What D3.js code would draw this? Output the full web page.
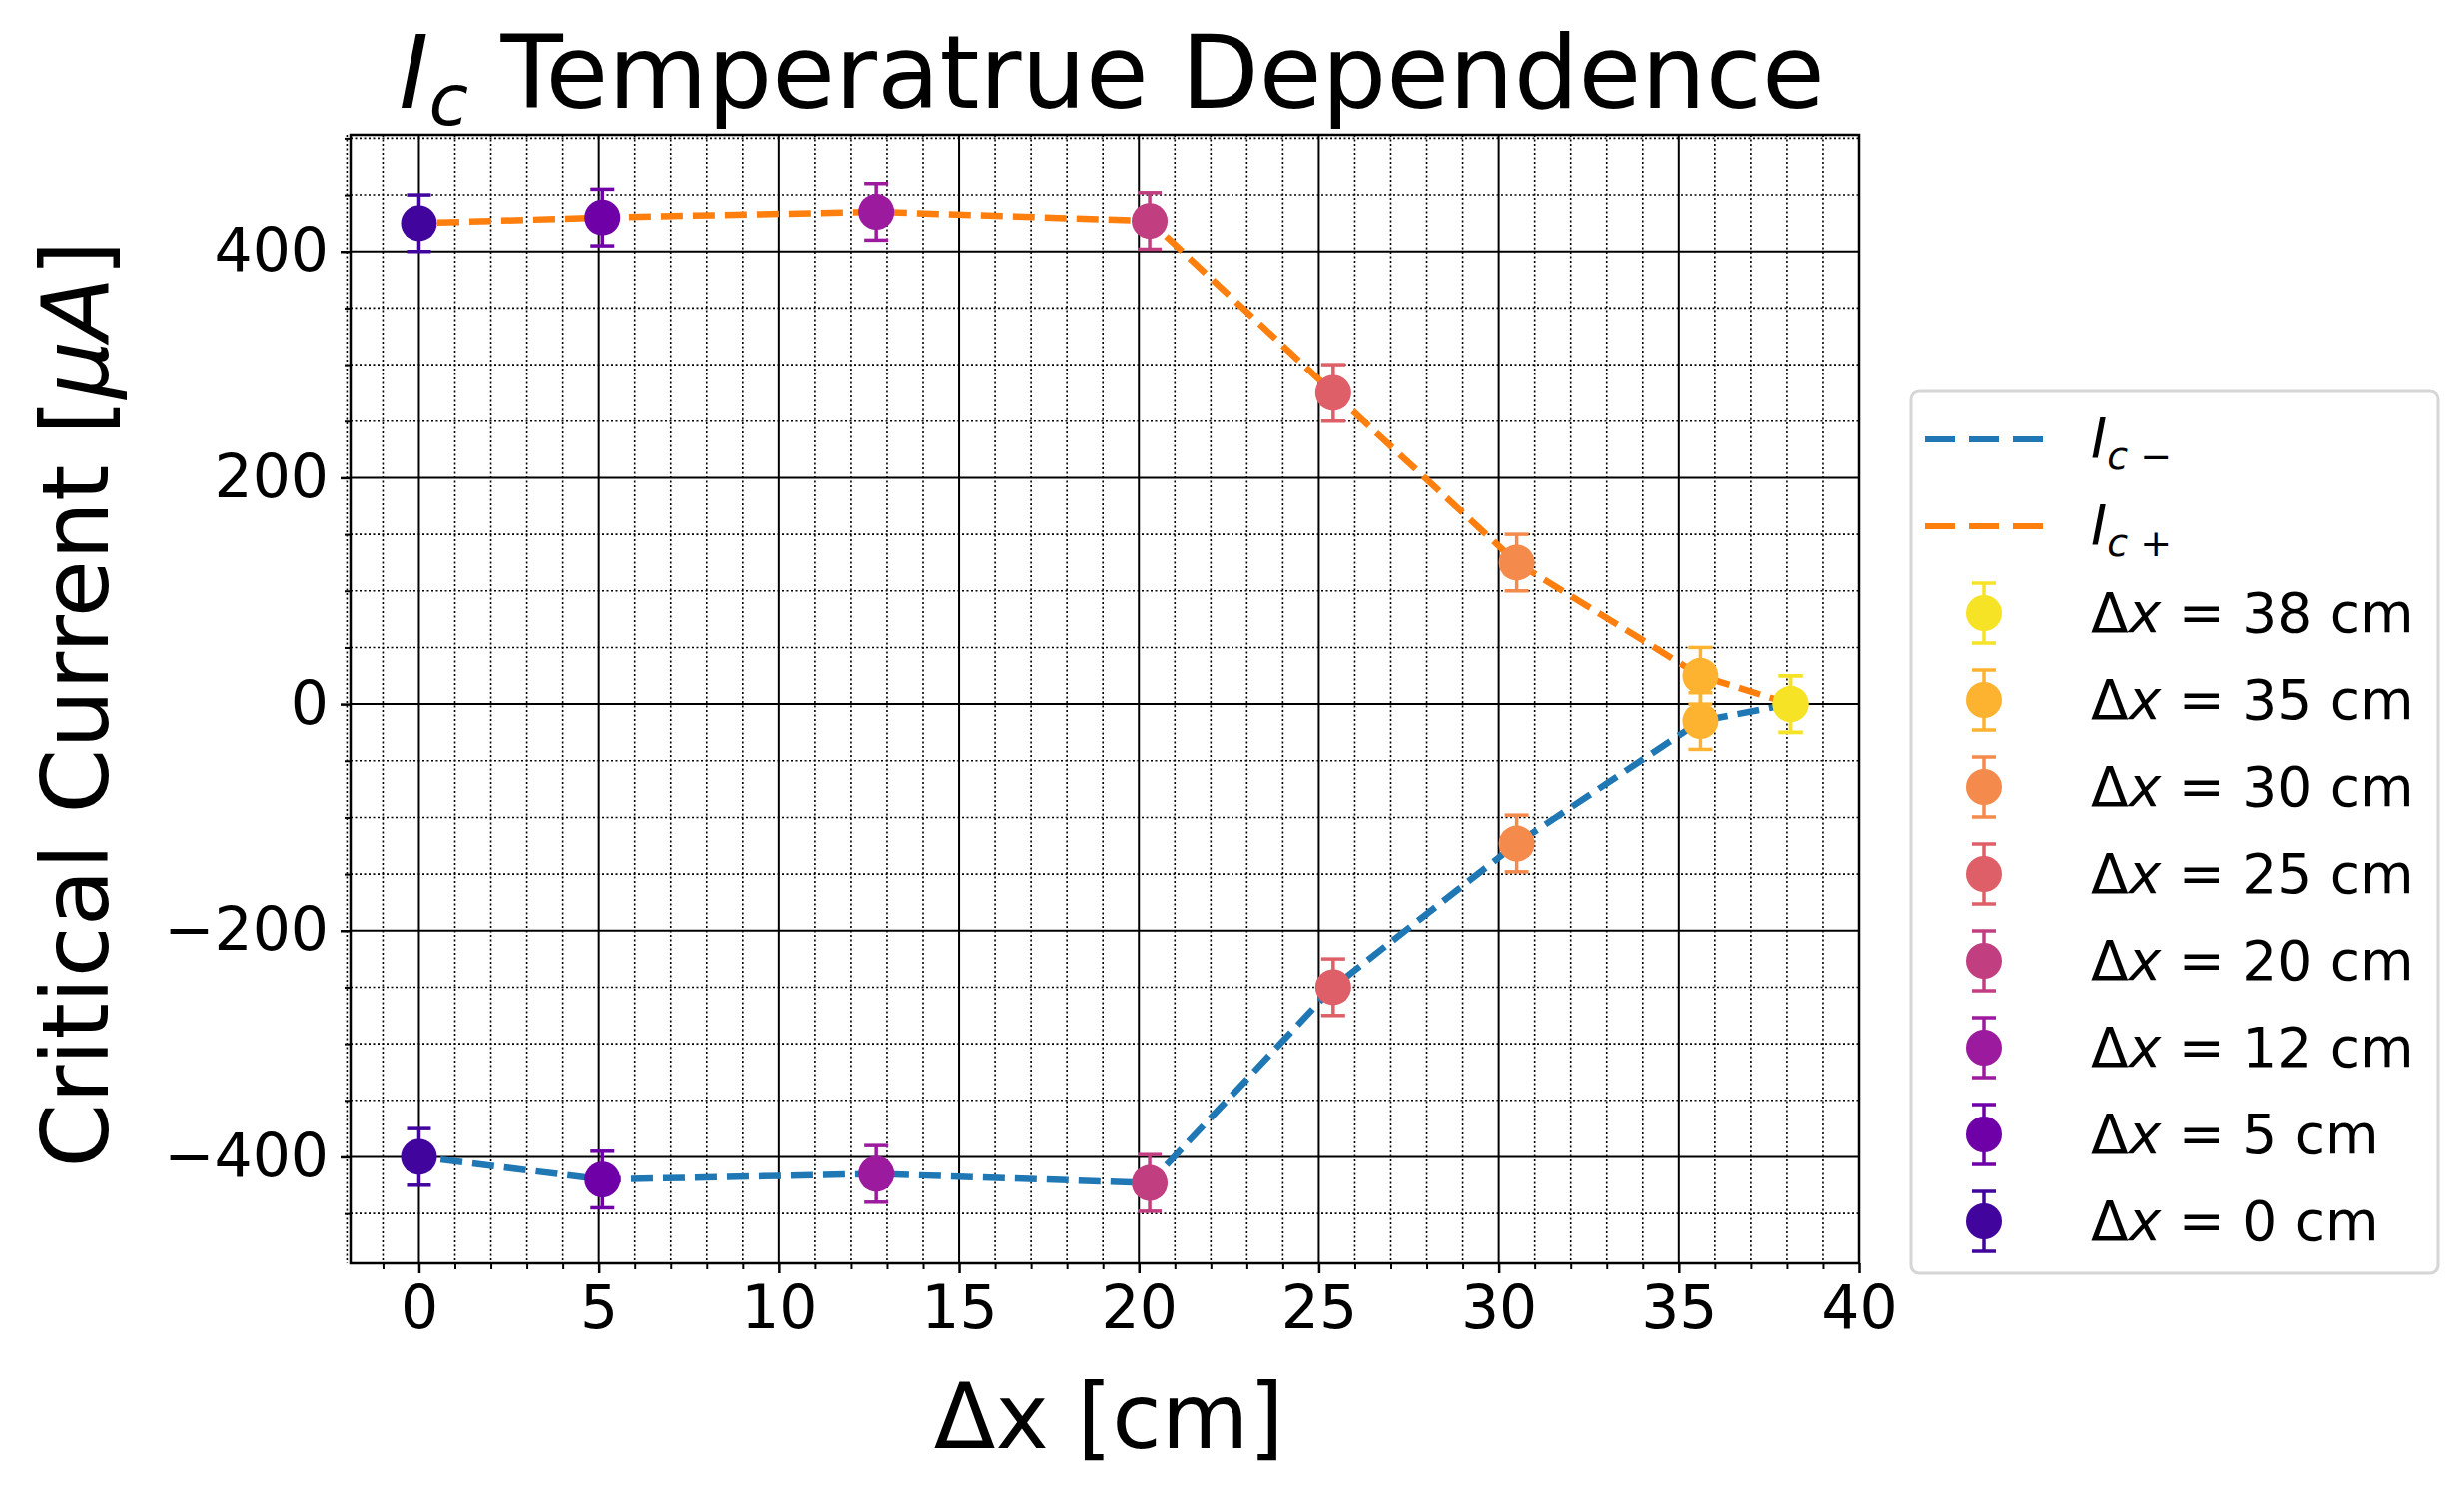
<!DOCTYPE html>
<html><head><meta charset="utf-8">
<script src="https://cdn.jsdelivr.net/npm/d3@7"></script>
<style>body{margin:0;background:#fff}text{font-family:"DejaVu Sans",sans-serif}</style>
</head><body>
<svg id="chart" width="2467" height="1493"></svg>
<script>
// data
var labels = ["38", "35", "30", "25", "20", "12", "5", "0"];
var xPos = [38.1, 35.6, 30.5, 25.4, 20.3, 12.7, 5.1, 0];
var icPlus = [0, 25, 125, 275, 427, 435, 430, 425];
var icMinus = [0, -15, -123, -250, -423, -415, -420, -400];
var errs = [25, 25, 25, 25, 25, 25, 25, 25];
var colors = ["#f6e326", "#fdb32f", "#f48a4c", "#df5f68", "#c13f80", "#9c1a9e", "#6f00a8", "#41049d"];
var xTicks = [0, 5, 10, 15, 20, 25, 30, 35, 40];
var yTicks = [-400, -200, 0, 200, 400];

var svg = d3.select("#chart");
var L = 351, R = 1861, T = 135, B = 1265;
var x = d3.scaleLinear().domain([-1.9, 40]).range([L, R]);
var y = d3.scaleLinear().domain([-494, 503]).range([B, T]);

var g = svg.append("g");
// minor grid
d3.range(-2, 41, 1).forEach(function(v) {
  if (v % 5 === 0) return;
  g.append("line").attr("x1", x(v)).attr("x2", x(v)).attr("y1", T).attr("y2", B)
    .attr("stroke", "#000").attr("stroke-width", 1.6).attr("stroke-dasharray", "2,2.5");
});
d3.range(-450, 501, 50).forEach(function(v) {
  if (v % 200 === 0) return;
  g.append("line").attr("x1", L).attr("x2", R).attr("y1", y(v)).attr("y2", y(v))
    .attr("stroke", "#000").attr("stroke-width", 1.6).attr("stroke-dasharray", "2,2.5");
});
// major grid
xTicks.forEach(function(v) {
  g.append("line").attr("x1", x(v)).attr("x2", x(v)).attr("y1", T).attr("y2", B)
    .attr("stroke", "#000").attr("stroke-width", 2);
});
yTicks.forEach(function(v) {
  g.append("line").attr("x1", L).attr("x2", R).attr("y1", y(v)).attr("y2", y(v))
    .attr("stroke", "#000").attr("stroke-width", 2);
});

// axes
var fmt = function(d) { return d < 0 ? "\u2212" + Math.abs(d) : d; };
var xa = svg.append("g").attr("transform", "translate(0," + B + ")")
  .call(d3.axisBottom(x).tickValues(xTicks).tickSize(10).tickPadding(12));
var ya = svg.append("g").attr("transform", "translate(" + L + ",0)")
  .call(d3.axisLeft(y).tickValues(yTicks).tickFormat(fmt).tickSize(10).tickPadding(12));
[xa, ya].forEach(function(a) {
  a.selectAll("text").attr("font-size", 60).attr("fill", "#000").style("font-family", "DejaVu Sans");
  a.selectAll("line").attr("stroke-width", 2.5);
  a.select(".domain").remove();
});
svg.append("g").attr("transform", "translate(0," + B + ")")
  .call(d3.axisBottom(x).tickValues(d3.range(-1, 40, 1).filter(function(v){return v % 5;})).tickSize(6).tickFormat(""))
  .call(function(s){ s.select(".domain").remove(); s.selectAll("line").attr("stroke-width", 2); });
svg.append("g").attr("transform", "translate(" + L + ",0)")
  .call(d3.axisLeft(y).tickValues(d3.range(-450, 501, 50).filter(function(v){return v % 200;})).tickSize(6).tickFormat(""))
  .call(function(s){ s.select(".domain").remove(); s.selectAll("line").attr("stroke-width", 2); });
svg.append("rect").attr("x", L).attr("y", T).attr("width", R - L).attr("height", B - T)
  .attr("fill", "none").attr("stroke", "#000").attr("stroke-width", 2.5);

// lines
var line = d3.line().x(function(d) { return x(d[0]); }).y(function(d) { return y(d[1]); });
svg.append("path").datum(d3.zip(xPos, icMinus)).attr("d", line).attr("fill", "none")
  .attr("stroke", "#1f77b4").attr("stroke-width", 6.5).attr("stroke-dasharray", "22,10");
svg.append("path").datum(d3.zip(xPos, icPlus)).attr("d", line).attr("fill", "none")
  .attr("stroke", "#ff7f0e").attr("stroke-width", 6.5).attr("stroke-dasharray", "22,10");

// points with error bars
function errPoint(cx, cy, e, c) {
  var p = svg.append("g");
  p.append("line").attr("x1", cx).attr("x2", cx).attr("y1", cy - e).attr("y2", cy + e).attr("stroke", c).attr("stroke-width", 3.5);
  [cy - e, cy + e].forEach(function(yy) {
    p.append("line").attr("x1", cx - 12).attr("x2", cx + 12).attr("y1", yy).attr("y2", yy).attr("stroke", c).attr("stroke-width", 3.5);
  });
  p.append("circle").attr("cx", cx).attr("cy", cy).attr("r", 18).attr("fill", c);
}
for (var i = labels.length - 1; i >= 0; i--) {
  var ey = y(0) - y(errs[i]);
  errPoint(x(xPos[i]), y(icPlus[i]), ey, colors[i]);
  errPoint(x(xPos[i]), y(icMinus[i]), ey, colors[i]);
}

// title and labels
var title = svg.append("text").attr("x", 1113).attr("y", 108).attr("text-anchor", "middle").attr("font-size", 102);
title.append("tspan").attr("font-style", "italic").text("I");
title.append("tspan").attr("font-style", "italic").attr("font-size", 72).attr("dy", 17).text("c");
title.append("tspan").attr("dy", -17).text(" Temperatrue Dependence");
svg.append("text").attr("x", x(20) - 30).attr("y", 1450).attr("text-anchor", "middle").attr("font-size", 90).text("\u0394x [cm]");
var yl = svg.append("text").attr("transform", "translate(108," + y(0) + ") rotate(-90)").attr("text-anchor", "middle").attr("font-size", 93);
yl.append("tspan").text("Critical Current [");
yl.append("tspan").attr("font-style", "italic").text("\u03bcA");
yl.append("tspan").text("]");

// legend
var lg = svg.append("g");
lg.append("rect").attr("x", 1913).attr("y", 392).attr("width", 528).attr("height", 883).attr("rx", 8)
  .attr("fill", "#fff").attr("stroke", "#d6d6d6").attr("stroke-width", 3);
var ly0 = 448, dy = 87, tx = 2094;
[["#1f77b4", "\u2212"], ["#ff7f0e", "+"]].forEach(function(d, k) {
  var yy = ly0 + k * dy;
  lg.append("line").attr("x1", 1927).attr("x2", 2045).attr("y1", yy - 8).attr("y2", yy - 8)
    .attr("stroke", d[0]).attr("stroke-width", 6).attr("stroke-dasharray", "30,14");
  var t = lg.append("text").attr("x", tx).attr("y", yy + 10).attr("font-size", 55);
  t.append("tspan").attr("font-style", "italic").text("I");
  t.append("tspan").attr("font-style", "italic").attr("font-size", 38).attr("dy", 12).text("c " + d[1]);
});
labels.forEach(function(lab, k) {
  var yy = ly0 + (k + 2) * dy - 8;
  var c = colors[k], cx = 1986;
  lg.append("line").attr("x1", cx).attr("x2", cx).attr("y1", yy - 30).attr("y2", yy + 30).attr("stroke", c).attr("stroke-width", 3.5);
  [yy - 30, yy + 30].forEach(function(v) {
    lg.append("line").attr("x1", cx - 12).attr("x2", cx + 12).attr("y1", v).attr("y2", v).attr("stroke", c).attr("stroke-width", 3.5);
  });
  lg.append("ellipse").attr("cx", cx).attr("cy", yy).attr("rx", 18).attr("ry", 18).attr("fill", c);
  var t = lg.append("text").attr("x", tx).attr("y", yy + 19).attr("font-size", 55);
  t.append("tspan").text("\u0394");
  t.append("tspan").attr("font-style", "italic").text("x");
  t.append("tspan").text(" = " + lab + " cm");
});
</script>
</body></html>
